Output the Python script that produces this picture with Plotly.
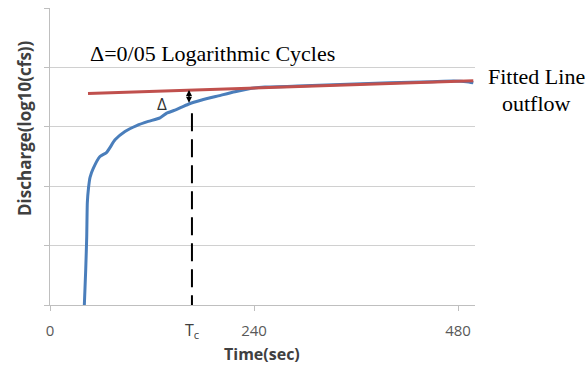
import plotly.graph_objects as go

# Data
time_sec = [40.4, 42.0, 43.2, 43.9, 45.3, 47.1, 50.9, 58.8, 66.7, 76.5, 88.2, 102, 115.6,
            129.4, 137.3, 147, 162.7, 178.5, 198, 217.6, 237.3, 252.9, 300, 350, 400, 450,
            475, 490, 498]
outflow = [0.0, 0.59, 1.15, 1.72, 1.97, 2.15, 2.30, 2.50, 2.57, 2.78, 2.92, 3.02, 3.09,
           3.15, 3.23, 3.28, 3.38, 3.45, 3.52, 3.59, 3.65, 3.67, 3.69, 3.715, 3.74, 3.76,
           3.77, 3.76, 3.74]
fit_time = [44.7, 498]
fit_value = [3.56, 3.775]
tc_time = 167
arrow_time = 163.5
arrow_top = 3.62
arrow_bottom = 3.38
dash_top = 3.23
x_tick_vals = [0, 240, 480]
x_tick_text = ["0", "240", "480"]
y_grid_vals = [0, 1, 2, 3, 4, 5]

fig = go.Figure()
fig.add_trace(go.Scatter(x=time_sec, y=outflow, mode="lines", name="outflow",
                         line=dict(color="#4a7ebb", width=3, shape="spline", smoothing=0.5)))
fig.add_trace(go.Scatter(x=fit_time, y=fit_value, mode="lines", name="Fitted Line",
                         line=dict(color="#c0504d", width=3)))
fig.add_trace(go.Scatter(x=[tc_time, tc_time], y=[dash_top, 0], mode="lines",
                         line=dict(color="black", width=2, dash="18px,8px"), showlegend=False))

fig.update_layout(
    width=587, height=366,
    margin=dict(l=50, r=112, t=8, b=61),
    paper_bgcolor="white", plot_bgcolor="white",
    showlegend=False,
    xaxis=dict(range=[0, 500], tickvals=x_tick_vals, ticktext=x_tick_text,
               ticks="outside", ticklen=5, tickcolor="#bfbfbf", showgrid=False,
               showline=True, linecolor="#bfbfbf", linewidth=1, zeroline=False,
               tickfont=dict(family="Open Sans", size=15, color="#595959"),
               ticklabelstandoff=7),
    yaxis=dict(range=[0, 5], tickvals=y_grid_vals, showticklabels=False,
               ticks="outside", ticklen=5, tickcolor="#bfbfbf",
               showgrid=True, gridcolor="#d0d0d0", gridwidth=1,
               showline=True, linecolor="#bfbfbf", linewidth=1, zeroline=False),
)

serif = dict(family="Liberation Serif", size=22, color="black")
fig.add_annotation(x=44.7, y=4.23, xref="x", yref="y", text="Δ=0/05 Logarithmic Cycles",
                   showarrow=False, xanchor="left", yanchor="middle", font=serif)
fig.add_annotation(x=1.145, y=0.768, xref="paper", yref="paper", text="Fitted Line",
                   showarrow=False, xanchor="center", yanchor="middle", font=serif)
fig.add_annotation(x=1.145, y=0.680, xref="paper", yref="paper", text="outflow",
                   showarrow=False, xanchor="center", yanchor="middle", font=serif)
fig.add_annotation(x=-0.0588, y=0.596, xref="paper", yref="paper",
                   text="<b>Discharge(log10(cfs))</b>", textangle=-90, showarrow=False,
                   xanchor="center", yanchor="middle",
                   font=dict(family="Open Sans", size=17, color="#404040"))
fig.add_annotation(x=0.499, y=-0.165, xref="paper", yref="paper", text="<b>Time(sec)</b>",
                   showarrow=False, xanchor="center", yanchor="middle",
                   font=dict(family="Open Sans", size=16, color="#404040"))
fig.add_annotation(x=tc_time, y=-0.0875, xref="x", yref="paper", text="T<sub>c</sub>",
                   showarrow=False, xanchor="center", yanchor="middle",
                   font=dict(family="Open Sans", size=16, color="#404040"))
fig.add_annotation(x=132, y=3.40, xref="x", yref="y", text="Δ", showarrow=False,
                   xanchor="center", yanchor="middle",
                   font=dict(family="Open Sans", size=17, color="#303030"))
fig.add_annotation(x=arrow_time, y=arrow_top, ax=arrow_time, ay=arrow_bottom,
                   xref="x", yref="y", axref="x", ayref="y", text="", showarrow=True,
                   arrowhead=2, startarrowhead=2, arrowside="end+start",
                   arrowsize=0.8, arrowwidth=1.5, arrowcolor="black")

fig.write_html("out.html")
